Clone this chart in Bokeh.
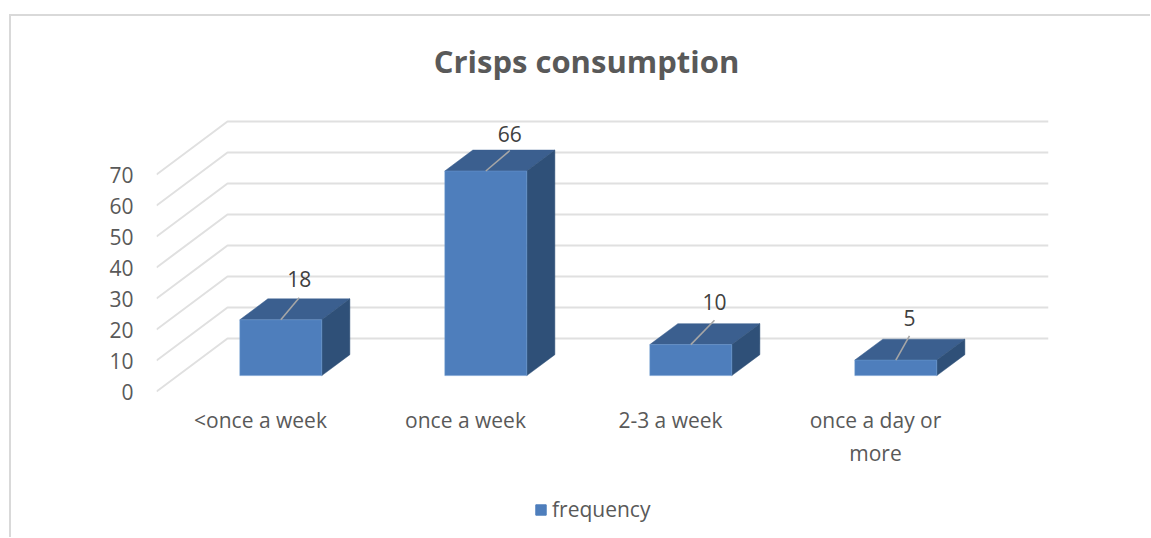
from bokeh.embed import file_html
from bokeh.resources import INLINE
from bokeh.plotting import figure
from bokeh.layouts import column, row
from bokeh.models import Label, FixedTicker, Legend, LegendItem, Spacer
from bokeh.core.properties import value

chart_title = "Crisps consumption"
categories = ["<once a week", "once a week", "2-3 a week", "once a day or\nmore"]
frequency = [18, 66, 10, 5]
y_ticks = [0, 10, 20, 30, 40, 50, 60, 70]
series_name = "frequency"

# style / projection constants
FONT = "Open Sans"
GAP_L, GAP_T, RULE = 9, 14, 2
W, H = 1139, 471
H2 = 50
L, R, T, B = 145, 102, 8, 95
PX_X, PX_Y = 205.0, 3.1          # pixels per category and per value unit
DX, DY = 71 / PX_X, 53 / PX_Y    # full depth of the floor, in data units
D0X = 0.286                      # bar front face: depth along x
D0, D1 = 0.30, 0.695             # bar depth extent
HALF = 0.2
LEADER = [(18.4, 22), (24, 20.5), (23.7, 24.4), (13.7, 24.3)]   # px run/rise of leader lines
LABEL_UP = [11, 9, 10, 10]
TITLE_X, TITLE_Y = 326 / PX_X, 331 / PX_Y

fw, fh = W - L - R, H - T - B
p = figure(width=W, height=H, output_backend="svg", toolbar_location=None,
           x_range=(-104 / PX_X, (fw - 104) / PX_X),
           y_range=(-1 / PX_Y, (fh - 1) / PX_Y),
           min_border_left=L, min_border_right=R, min_border_top=T, min_border_bottom=B,
           outline_line_color=None, background_fill_color="white")
p.grid.visible = False

p.add_layout(Label(x=TITLE_X, y=TITLE_Y, text=chart_title, text_align="center", text_baseline="middle",
                   text_font=FONT, text_font_size="31px", text_font_style="bold",
                   text_color="#595959"))

# gridlines: floor edge + back wall
gx = [[-104 / PX_X, -104 / PX_X + DX, (fw - 104) / PX_X] for _ in y_ticks]
gy = [[t, t + DY, t + DY] for t in y_ticks]
p.multi_line(gx, gy, line_color="#e0e0e0", line_width=2)

# bars
top_x, top_y, side_x, side_y, fx, fy = [], [], [], [], [], []
for i, v in enumerate(frequency):
    xl, xr = i - HALF + D0X * DX, i + HALF + D0X * DX
    y0, y1 = D0 * DY, v + D0 * DY
    d = (D1 - D0)
    fx.append([xl, xr, xr, xl]); fy.append([y0, y0, y1, y1])
    top_x.append([xl, xr, xr + d * DX, xl + d * DX]); top_y.append([y1, y1, y1 + d * DY, y1 + d * DY])
    side_x.append([xr, xr + d * DX, xr + d * DX, xr]); side_y.append([y0, y0 + d * DY, y1 + d * DY, y1])
p.patches(top_x, top_y, fill_color="#3b5f8f", line_color="#3b5f8f", line_width=0.5)
p.patches(side_x, side_y, fill_color="#2f5078", line_color="#2f5078", line_width=0.5)
p.patches(fx, fy, fill_color="#4e7ebc", line_color="#6f9bd0", line_width=0.5)

# leader lines and value labels
for i, v in enumerate(frequency):
    x0 = i + D0X * DX
    y0 = v + D0 * DY
    x1 = x0 + LEADER[i][0] / PX_X
    y1 = y0 + LEADER[i][1] / PX_Y
    p.segment([x0], [y0], [x1], [y1], line_color="#a6a6a6", line_width=1.6)
    p.text([x1], [y1], text=[str(v)], text_font=value(FONT), text_font_size="21px",
           text_color="#404040", text_align="center", text_baseline="bottom", y_offset=-LABEL_UP[i])

# axes
p.yaxis.ticker = FixedTicker(ticks=y_ticks)
p.yaxis.axis_line_color = None
p.yaxis.major_tick_line_color = None
p.yaxis.minor_tick_line_color = None
p.yaxis.major_label_standoff = 17
p.yaxis.major_label_text_font = FONT
p.yaxis.major_label_text_font_size = "21px"
p.yaxis.major_label_text_color = "#595959"

p.xaxis.ticker = FixedTicker(ticks=list(range(len(categories))))
p.xaxis.major_label_overrides = {i: c for i, c in enumerate(categories)}
p.xaxis.axis_line_color = None
p.xaxis.major_tick_line_color = None
p.xaxis.minor_tick_line_color = None
p.xaxis.major_label_standoff = 7
p.xaxis.major_label_text_font = FONT
p.xaxis.major_label_text_font_size = "21px"
p.xaxis.major_label_text_color = "#595959"

# legend lives in its own narrow strip so that it can sit below the axis labels
p2 = figure(width=W, height=H2, output_backend="svg", toolbar_location=None,
            x_range=(100, 101), y_range=(100, 101), outline_line_color=None,
            min_border_left=0, min_border_right=0, min_border_top=0, min_border_bottom=0)
p2.grid.visible = False
p2.axis.visible = False
swatch = p2.patches(fx, fy, fill_color="#4e7ebc", line_color="#4e7ebc")
p2.add_layout(Legend(items=[LegendItem(label=series_name, renderers=[swatch])],
                     location=(378, 14), orientation="horizontal",
                     border_line_color=None, background_fill_alpha=0,
                     label_text_font=FONT, label_text_font_size="21px", label_text_color="#595959",
                     glyph_width=13, glyph_height=13, padding=0, margin=0, label_standoff=5))

rule = {"background-color": "#d9d9d9"}
page = column(
    Spacer(height=GAP_T),
    row(Spacer(width=GAP_L), Spacer(width=W + RULE, height=RULE, styles=rule)),
    row(Spacer(width=GAP_L), Spacer(width=RULE, height=H + H2, styles=rule), column(p, p2)),
)

open("out.html", "w").write(file_html(page, INLINE))
